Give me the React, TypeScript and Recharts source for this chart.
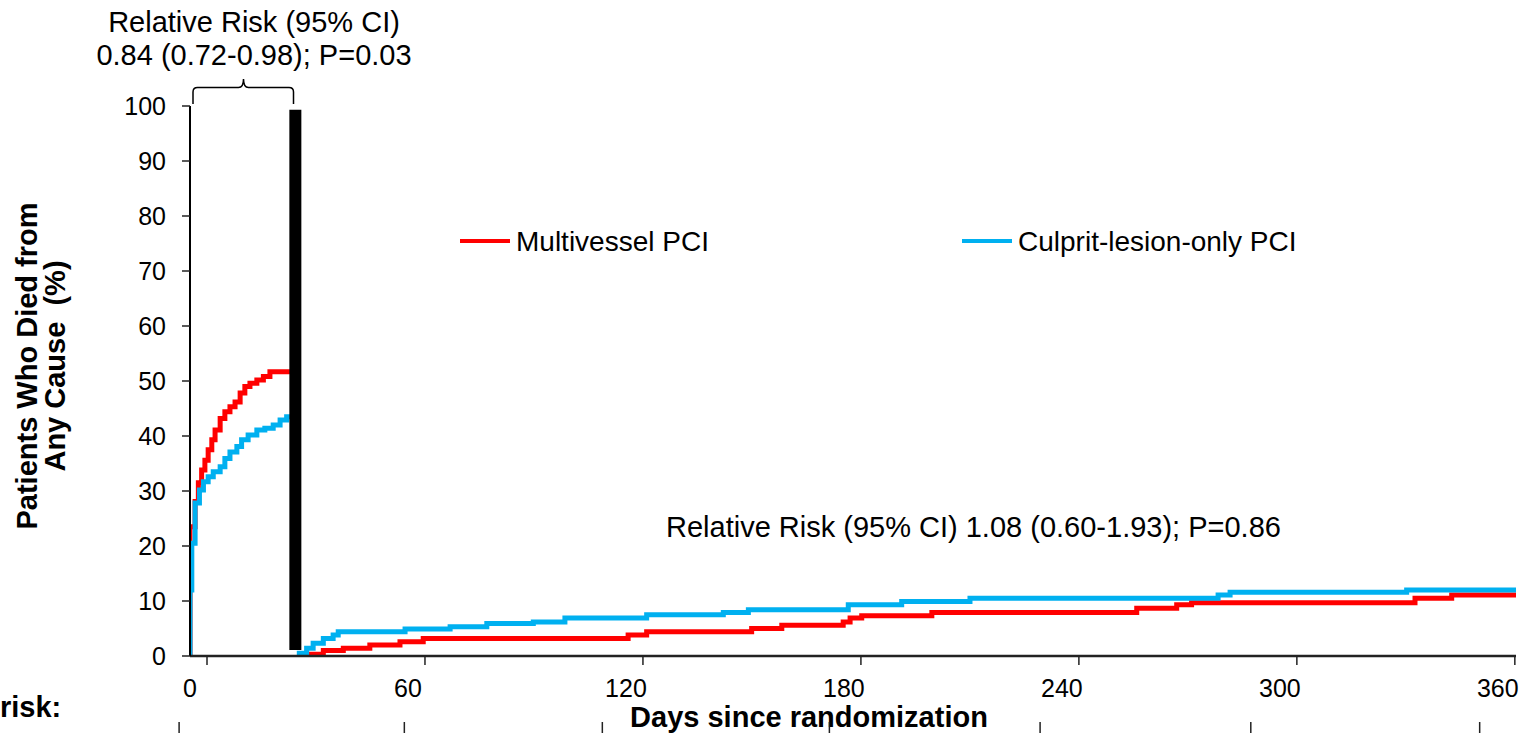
import React from "react";
import { LineChart, Line, XAxis, YAxis, ReferenceLine, Legend } from "recharts";

const FONT = "'Liberation Sans', Arial, sans-serif";
const RED = "#FF0000";
const BLUE = "#00B0F0";

// [day, % died] — first 30 days (left panel, before the black divider)
const multivesselEarly: [number, number][] = [
  [0, 0], [0, 23.5], [1.4, 28.1], [2.3, 31.5], [3.2, 33.8], [4.1, 35.6], [5.0, 37.5],
  [6.0, 39.3], [6.9, 41.1], [8.3, 43.2], [9.6, 44.4], [11.0, 45.3], [12.4, 46.2],
  [13.8, 47.8], [15.1, 49.0], [16.5, 49.6], [18.4, 50.2], [20.2, 50.8], [22.0, 51.7], [27.5, 51.7],
];
const culpritEarly: [number, number][] = [
  [0, 0], [0, 12.0], [0.5, 20.5], [1.4, 27.8], [2.6, 30.2], [3.7, 31.7], [5.0, 32.6],
  [6.4, 33.5], [8.3, 34.4], [9.6, 35.9], [11.0, 37.1], [12.9, 38.1], [14.2, 39.3],
  [16.0, 40.2], [18.4, 41.1], [20.6, 41.4], [22.9, 42.0], [24.8, 42.9], [26.6, 43.5], [27.5, 43.5],
];

// [day, % died] — landmark analysis from day 30 to 1 year
const multivesselLate: [number, number][] = [
  [32.1, 0.3], [36.7, 1.0], [42.2, 1.4], [49.5, 2.0], [57.8, 2.6], [64.2, 3.2], [120.6, 3.8],
  [125.7, 4.4], [154.6, 5.0], [162.9, 5.6], [179.8, 6.2], [181.7, 6.9], [184.9, 7.3],
  [204.2, 7.9], [260.6, 8.7], [271.6, 9.3], [275.7, 9.7], [337.2, 10.5], [347.3, 11.1], [365, 11.1],
];
const culpritLate: [number, number][] = [
  [29.4, 0.5], [32.1, 1.4], [33.9, 2.3], [36.7, 3.2], [39.4, 3.8], [40.8, 4.4], [59.2, 4.9],
  [71.6, 5.3], [81.7, 5.9], [94.5, 6.2], [103.2, 6.9], [125.7, 7.5], [146.8, 7.9], [153.7, 8.4],
  [181.2, 9.3], [195.9, 9.9], [214.7, 10.5], [283.0, 11.1], [286.3, 11.6], [334.9, 12.0], [365, 12.0],
];

const xTicks = [0, 60, 120, 180, 240, 300, 360];
const yTicks = [0, 10, 20, 30, 40, 50, 60, 70, 80, 90, 100];
// tick marks of the "No. at risk" row under the axis title
const riskTickDays = [-3, 59, 113.5, 176, 234, 292, 355];
const legendOrder = ["Multivessel PCI", "Culprit-lesion-only PCI"];

const toRows = (pts: [number, number][]) => pts.map(([day, pct]) => ({ day, pct }));

function DayTick(props: any) {
  const { x, y, payload } = props;
  return (
    <g>
      <line x1={x + 17} x2={x + 17} y1={y - 9} y2={y} stroke="#222" strokeWidth={1.5} />
      <text x={x} y={y + 32} textAnchor="middle" fontSize={25} fontFamily={FONT} fill="#000">
        {payload.value}
      </text>
    </g>
  );
}

function LegendContent({ payload }: any) {
  const items = legendOrder
    .map((n) => (payload || []).find((p: any) => p.value === n))
    .filter(Boolean);
  return (
    <svg width={900} height={40} style={{ overflow: "visible" }}>
      {items.map((p: any, i: number) => (
        <g key={p.value} transform={`translate(${i * 502},0)`}>
          <line x1={0} x2={50} y1={20} y2={20} stroke={p.color} strokeWidth={4} />
          <text x={56} y={30} fontSize={28} fontFamily={FONT} fill="#000">
            {p.value}
          </text>
        </g>
      ))}
    </svg>
  );
}

export default function App() {
  return (
    <div style={{ position: "absolute", left: 0, top: 0, background: "#fff" }}>
      <LineChart width={1526} height={733} margin={{ top: 106, right: 10, bottom: 11, left: 0 }}>
        <XAxis
          dataKey="day"
          type="number"
          domain={[0, 365]}
          ticks={xTicks}
          tick={<DayTick />}
          tickLine={false}
          tickSize={9}
          tickMargin={0}
          height={66}
          axisLine={{ stroke: "#222", strokeWidth: 2.5 }}
          allowDataOverflow
        />
        <XAxis
          xAxisId="top"
          orientation="top"
          type="number"
          domain={[0, 365]}
          tick={false}
          tickLine={false}
          height={0}
          axisLine={{ stroke: "#000", strokeWidth: 2 }}
        />
        <YAxis
          type="number"
          domain={[0, 100]}
          ticks={yTicks}
          width={190}
          tickSize={8}
          tickMargin={16}
          tick={{ fontSize: 25, fontFamily: FONT, fill: "#000" }}
          tickLine={{ stroke: "#222", strokeWidth: 1.5 }}
          axisLine={{ stroke: "#000", strokeWidth: 2 }}
          allowDataOverflow
        />
        <YAxis
          yAxisId="right"
          orientation="right"
          type="number"
          domain={[0, 100]}
          width={0}
          tick={false}
          tickLine={false}
          axisLine={{ stroke: "#000", strokeWidth: 2 }}
        />
        <Legend
          layout="horizontal"
          verticalAlign="middle"
          align="center"
          wrapperStyle={{ position: "absolute", left: 460, top: 221, width: 900, height: 40 }}
          content={<LegendContent />}
        />
        <Line data={toRows(multivesselEarly)} dataKey="pct" name="Multivessel PCI" type="stepAfter"
          stroke={RED} strokeWidth={5} dot={false} activeDot={false} isAnimationActive={false} />
        <Line data={toRows(multivesselLate)} dataKey="pct" name="Multivessel PCI (late)" legendType="none" type="stepAfter"
          stroke={RED} strokeWidth={5} dot={false} activeDot={false} isAnimationActive={false} />
        <Line data={toRows(culpritEarly)} dataKey="pct" name="Culprit-lesion-only PCI" type="stepAfter"
          stroke={BLUE} strokeWidth={5} dot={false} activeDot={false} isAnimationActive={false} />
        <Line data={toRows(culpritLate)} dataKey="pct" name="Culprit-lesion-only PCI (late)" legendType="none" type="stepAfter"
          stroke={BLUE} strokeWidth={5} dot={false} activeDot={false} isAnimationActive={false} />
        <ReferenceLine
          segment={[{ x: 29, y: 1.1 }, { x: 29, y: 99.3 }]}
          stroke="#000"
          strokeWidth={12}
          ifOverflow="visible"
        />
        {riskTickDays.map((d) => (
          <ReferenceLine
            key={d}
            segment={[{ x: d, y: -12 }, { x: d, y: -14 }]}
            stroke="#222"
            strokeWidth={1.5}
            ifOverflow="visible"
          />
        ))}
        <g fontFamily={FONT} fill="#000">
          <text x={254} y={32} fontSize={29} textAnchor="middle">Relative Risk (95% CI)</text>
          <text x={254} y={65} fontSize={29} textAnchor="middle">0.84 (0.72-0.98); P=0.03</text>
          <path
            d="M193,104 L193,92 Q193,87.5 197.5,87.5 L238.5,87.5 Q243.5,87.5 243.5,79 Q243.5,87.5 248.5,87.5 L289,87.5 Q293.5,87.5 293.5,92 L293.5,104"
            fill="none"
            stroke="#000"
            strokeWidth={1.5}
          />
          <text x={666} y={537} fontSize={29}>Relative Risk (95% CI) 1.08 (0.60-1.93); P=0.86</text>
          <text x={809} y={727} fontSize={29} fontWeight="bold" textAnchor="middle">Days since randomization</text>
          <text x={0} y={717} fontSize={29} fontWeight="bold">risk:</text>
          <text transform="translate(37,366) rotate(-90)" fontSize={29} fontWeight="bold" textAnchor="middle">
            Patients Who Died from
          </text>
          <text transform="translate(65,366) rotate(-90)" fontSize={29} fontWeight="bold" textAnchor="middle"
            style={{ whiteSpace: "pre" }}>
            {"Any Cause  (%)"}
          </text>
        </g>
      </LineChart>
    </div>
  );
}
